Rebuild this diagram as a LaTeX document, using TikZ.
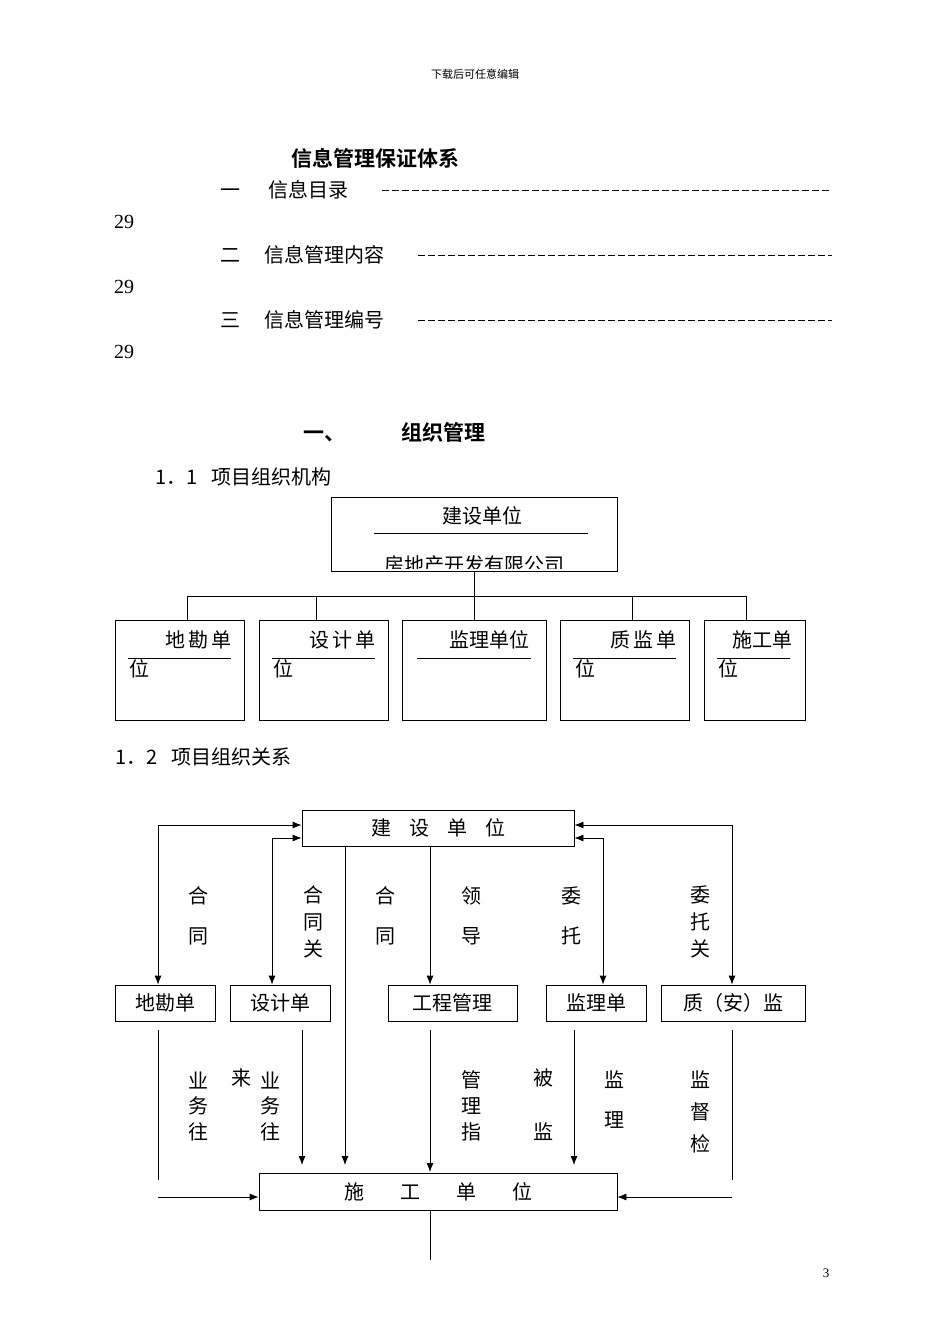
\documentclass[tikz,border=0pt]{standalone}
\usepackage{fontspec}
\setmainfont{Liberation Serif}
\newfontfamily\cjk{Noto Sans CJK SC}
\newfontfamily\cjkb{Noto Sans CJK SC Bold}
\usetikzlibrary{arrows.meta}
\begin{document}
\begin{tikzpicture}[x=1pt,y=-1pt,
  t/.style={font=\cjk\fontsize{20}{20}\selectfont,inner sep=0pt},
  bx/.style={draw,thick,inner sep=0pt,font=\cjk\fontsize{20}{20}\selectfont},
  ln/.style={thick},
  ar/.style={thick,-{Latex[length=9pt,width=7pt]}},
  dar/.style={thick,{Latex[length=9pt,width=7pt]}-{Latex[length=9pt,width=7pt]}}]
\useasboundingbox (0,0) rectangle (950,1344);
\node[font=\cjk\fontsize{11}{11}\selectfont] (hdr) at (475,74) {下载后可任意编辑};
\node[font=\cjkb\fontsize{21}{21}\selectfont,anchor=west] (ttl) at (288,158) {信息管理保证体系};
\node[t,anchor=west] (l1) at (220,190) {一\hspace{28pt}信息目录};
\node[t,anchor=west] (l2) at (220,255) {二\hspace{24pt}信息管理内容};
\node[t,anchor=west] (l3) at (220,320) {三\hspace{24pt}信息管理编号};
\foreach \y/\s in {190/382,255/418,320/418}{\draw[thick,dash pattern=on 7pt off 3pt] (\s,\y) -- (832,\y);}
\foreach \y/\n in {222/a,287/b,352/c}{\node[font=\fontsize{20}{20}\selectfont,anchor=west,inner sep=0pt] (p\n) at (114,\y) {29};}
\node[font=\cjkb\fontsize{21}{21}\selectfont,anchor=west] (h1) at (300,432) {一、\hspace{56pt}组织管理};
\node[t,anchor=west] (h11) at (155,477) {1．1\hspace{14pt}项目组织机构};
\node[t,anchor=west] (h12) at (115,757) {1．2\hspace{14pt}项目组织关系};
\node[font=\fontsize{13}{13}\selectfont] (pg) at (826,1273) {3};
% chart 1
\node[bx,minimum width=286pt,minimum height=74pt] (js) at (474,534) {};
\node[t] (jst) at (482,516) {建设单位};
\draw[ln] (374,533) -- (588,533);
\begin{scope}
\clip (331,497) rectangle (617,568);
\node[t] (jsc) at (474,565) {房地产开发有限公司};
\end{scope}
\draw[ln] (187,596) -- (746,596);
\draw[ln] (474,571) -- (474,596);
\foreach \a/\b/\c/\n in {115/244/187/k,259/388/316/s,402/546/474/j,560/689/632/z,704/805/746/g}{
  \node[bx,minimum width={\b-\a},minimum height=100pt] (b\n) at ({(\a+\b)/2},670) {};
  \draw[ln] (\c,596) -- (\c,620);}
\node[t,anchor=east] at (232,640) {地\,勘\,单};
\node[t,anchor=east] at (376,640) {设\,计\,单};
\node[t,anchor=east] at (530,640) {监理单位};
\node[t,anchor=east] at (677,640) {质\,监\,单};
\node[t,anchor=east] at (793,640) {施工单};
\foreach \a/\b in {128/231,272/375,417/531,573/676,717/790}{\draw[ln] (\a,658) -- (\b,658);}
\foreach \x in {139,283,585,728}{\node[t] at (\x,669) {位};}
% chart 2
\node[bx,minimum width=272pt,minimum height=36pt] (A) at (438,828) {建\hspace{18pt}设\hspace{18pt}单\hspace{18pt}位};
\node[bx,minimum width=358pt,minimum height=37pt] (S) at (438,1192) {施\hspace{36pt}工\hspace{36pt}单\hspace{36pt}位};
\node[bx,minimum width=100pt,minimum height=36pt] (K) at (165,1003) {地勘单};
\node[bx,minimum width=100pt,minimum height=36pt] (D) at (280,1003) {设计单};
\node[bx,minimum width=129pt,minimum height=36pt] (G) at (452.5,1003) {工程管理};
\node[bx,minimum width=100pt,minimum height=36pt] (J) at (596,1003) {监理单};
\node[bx,minimum width=144pt,minimum height=36pt] (Z) at (733,1003) {质（安）监};
\draw[dar] (A.west|-0,825) -| (158,0|-K.north);
\draw[dar] (A.west|-0,838) -| (272,0|-D.north);
\draw[dar] (A.east|-0,825) -| (732,0|-Z.north);
\draw[dar] (A.east|-0,838) -| (603,0|-J.north);
\draw[ar] (345,0|-A.south) -- (345,1165);
\draw[ar] (430,0|-A.south) -- (430,0|-G.north);
\coordinate (k1) at (158,1180); \coordinate (k2) at (158,1197);
\draw[ln] (158,1030) -- (k1);
\draw[ar] (k2) -- (S.west|-k2);
\coordinate (z1) at (732,1180); \coordinate (z2) at (732,1197);
\draw[ln] (732,1030) -- (z1);
\draw[ar] (z2) -- (S.east|-z2);
\draw[ar] (302,1030) -- (302,1165);
\draw[ar] (430,1030) -- (430,1172);
\draw[ar] (574,1030) -- (574,1165);
\draw[ln] (430,0|-S.south) -- (430,1260);
\foreach \x/\y/\s in {198/896/合,198/936/同,313/895/合,313/922/同,313/949/关,385/896/合,385/936/同,
  471/896/领,471/936/导,571/896/委,571/936/托,700/895/委,700/922/托,700/949/关,
  198/1080/业,198/1106/务,198/1132/往,241/1078/来,270/1080/业,270/1106/务,270/1132/往,
  471/1080/管,471/1106/理,471/1132/指,543/1078/被,543/1132/监,614/1080/监,614/1120/理,
  700/1080/监,700/1112/督,700/1144/检}{\node[t] at (\x,\y) {\s};}
\end{tikzpicture}
\end{document}
